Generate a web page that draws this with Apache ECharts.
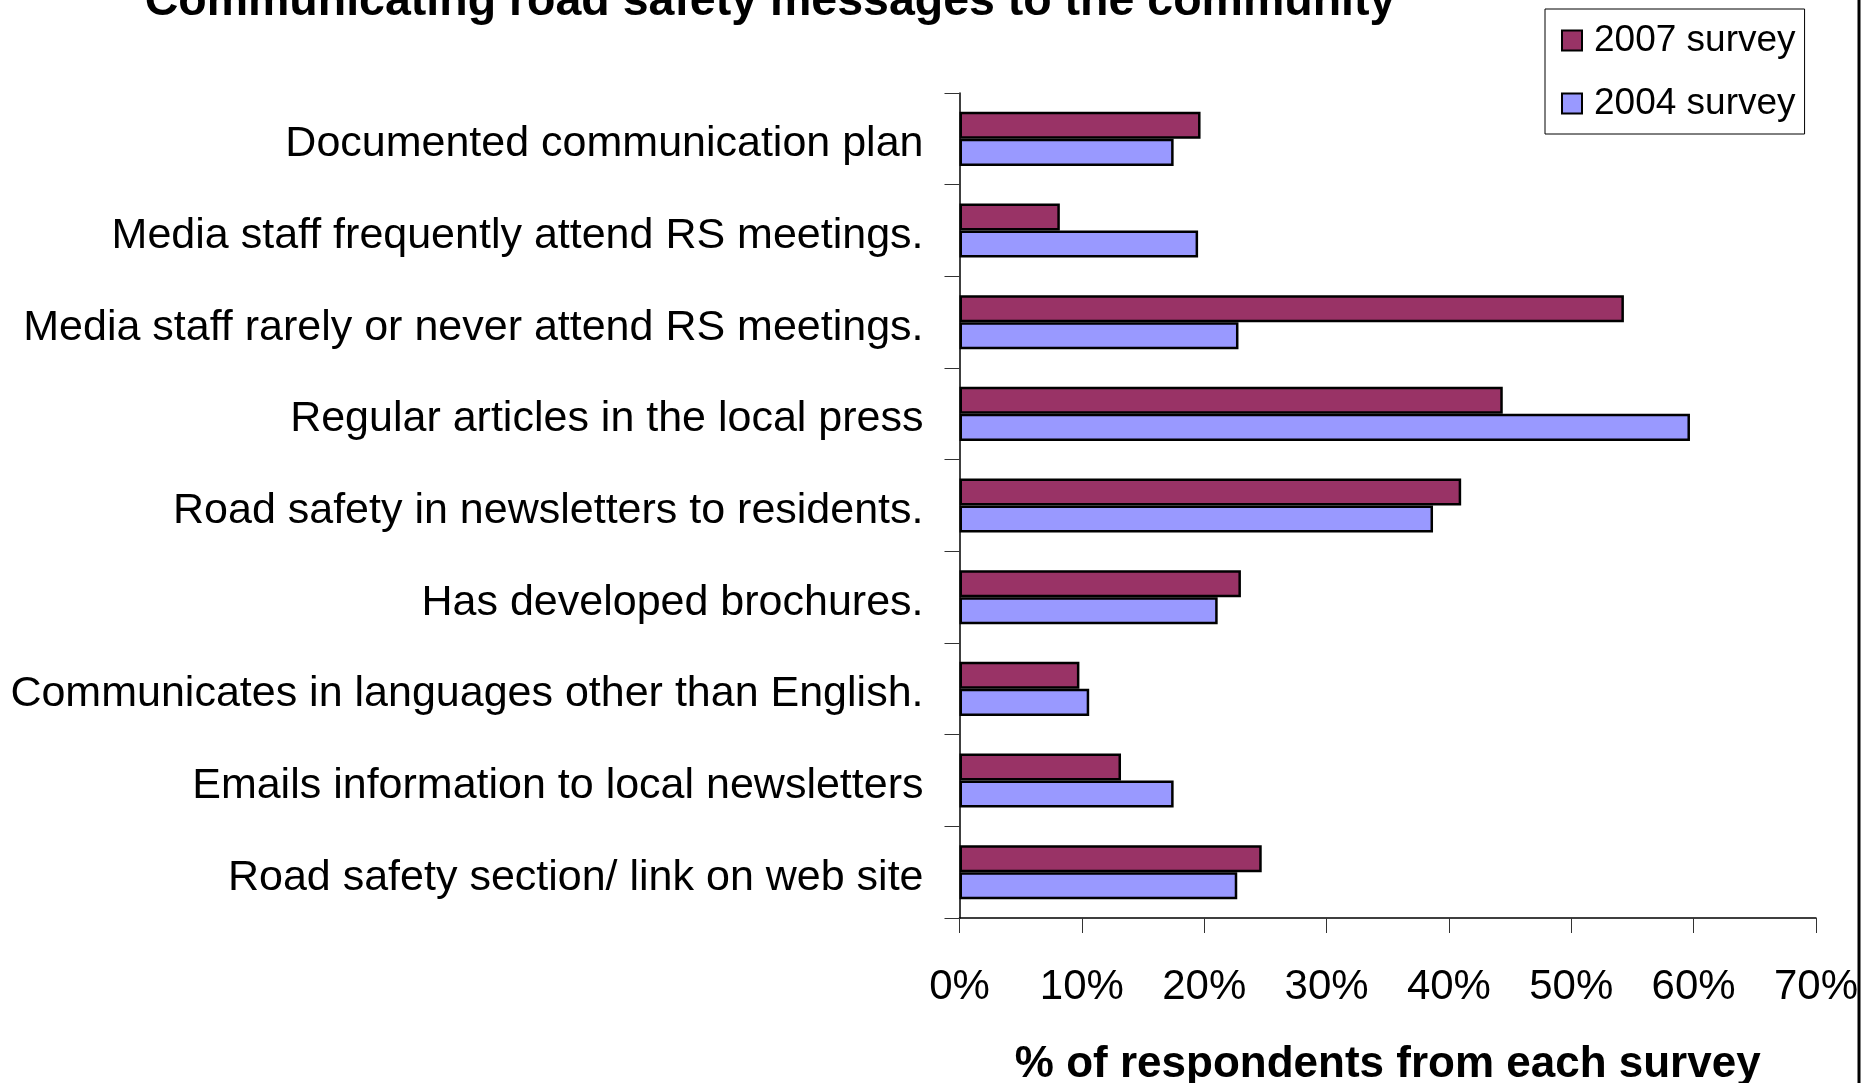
<!DOCTYPE html>
<html>
<head>
<meta charset="utf-8">
<script src="https://cdn.jsdelivr.net/npm/echarts@6/dist/echarts.min.js"></script>
<style>
html,body{margin:0;padding:0;background:#fff;}
#chart{width:1864px;height:1083px;}
</style>
</head>
<body>
<div id="chart"></div>
<script>
const categories = [
  'Documented communication plan',
  'Media staff frequently attend RS meetings.',
  'Media staff rarely or never attend RS meetings.',
  'Regular articles in the local press',
  'Road safety in newsletters to residents.',
  'Has developed brochures.',
  'Communicates in languages other than English.',
  'Emails information to local newsletters',
  'Road safety section/ link on web site'
];
const survey2007 = [19.7, 8.2, 54.3, 44.4, 41.0, 23.0, 9.8, 13.2, 24.7];
const survey2004 = [17.5, 19.5, 22.8, 59.7, 38.7, 21.1, 10.6, 17.5, 22.7];
const xTicks = [0, 10, 20, 30, 40, 50, 60, 70];

const chart = echarts.init(document.getElementById('chart'), null, {renderer: 'canvas'});
const FONT = '"Liberation Sans", Arial, sans-serif';

chart.setOption({
  backgroundColor: '#ffffff',
  animation: false,
  title: {
    text: 'Communicating road safety messages to the community',
    left: 765, top: -26, textAlign: 'center',
    textStyle: {fontFamily: FONT, fontWeight: 'bold', fontSize: 46.5, color: '#000'}
  },
  legend: {
    orient: 'vertical',
    left: 1545, top: 9,
    padding: [13, 9, 12, 16],
    itemGap: 26,
    itemWidth: 20, itemHeight: 20,
    icon: 'rect',
    borderColor: '#000', borderWidth: 1,
    backgroundColor: '#fff',
    itemStyle: {borderColor: '#000', borderWidth: 2},
    textStyle: {fontFamily: FONT, fontSize: 37, color: '#000', padding: [0, 0, 0, 7]},
    data: ['2007 survey', '2004 survey']
  },
  grid: {left: 959.5, right: 48, top: 93, bottom: 165, containLabel: false, outerBoundsMode: 'none'},
  xAxis: {
    type: 'value',
    min: xTicks[0], max: xTicks[xTicks.length - 1], interval: 10,
    splitLine: {show: false},
    axisLine: {show: true, lineStyle: {color: '#000', width: 1.5}},
    axisTick: {show: true, length: 15, lineStyle: {color: '#333', width: 1}},
    axisLabel: {
      margin: 48,
      formatter: v => v + '%',
      fontFamily: FONT, fontSize: 42, color: '#000'
    },
    name: '% of respondents from each survey',
    nameLocation: 'middle',
    nameGap: 125,
    nameTextStyle: {fontFamily: FONT, fontWeight: 'bold', fontSize: 44, color: '#000'}
  },
  yAxis: {
    type: 'category',
    inverse: true,
    data: categories,
    axisLine: {show: true, lineStyle: {color: '#000', width: 1.5}},
    axisTick: {show: true, length: 15, lineStyle: {color: '#333', width: 1}},
    axisLabel: {margin: 36, verticalAlign: 'top', lineHeight: 11, fontFamily: FONT, fontSize: 43, color: '#000'}
  },
  series: [
    {
      name: '2007 survey', type: 'bar', data: survey2007,
      barGap: '0%', barCategoryGap: '41%',
      itemStyle: {color: '#993366', borderColor: '#000', borderWidth: 2.5}
    },
    {
      name: '2004 survey', type: 'bar', data: survey2004,
      barGap: '0%', barCategoryGap: '41%',
      itemStyle: {color: '#9999FF', borderColor: '#000', borderWidth: 2.5}
    }
  ],
  graphic: [
    {type: 'line', shape: {x1: 1859, y1: 0, x2: 1859, y2: 1083}, style: {stroke: '#000', lineWidth: 3}, z: 100}
  ]
});
</script>
</body>
</html>
